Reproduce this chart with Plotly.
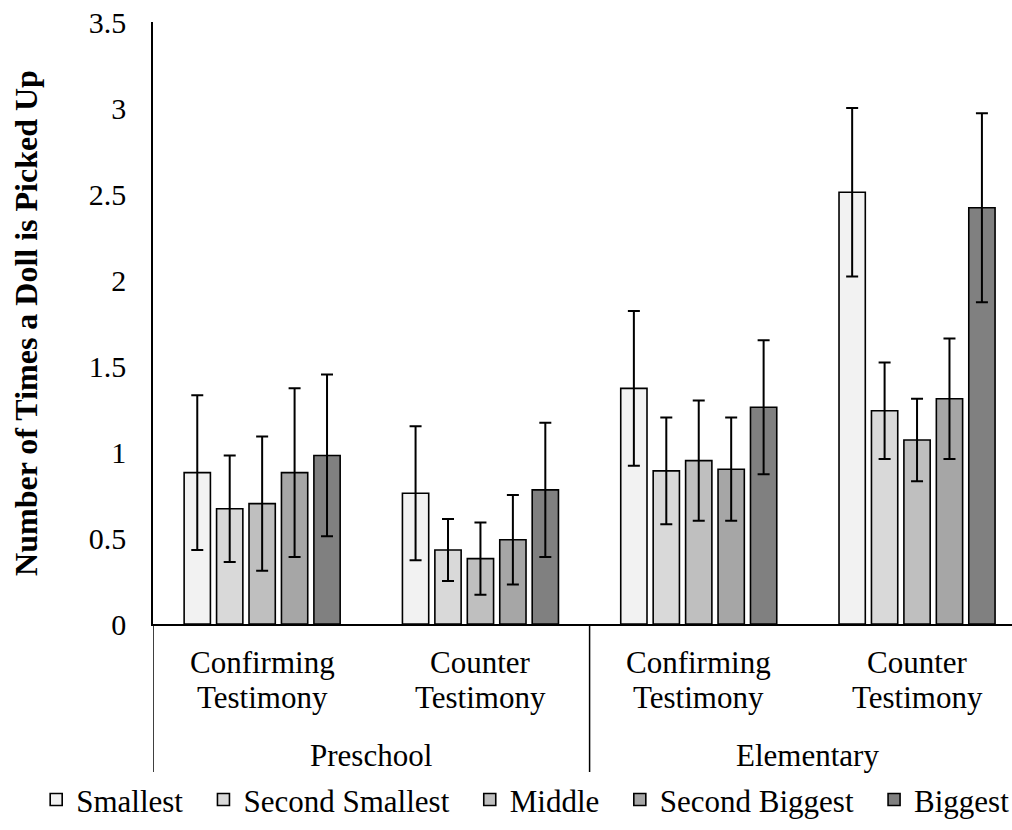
import plotly.graph_objects as go

# Doll-size series and their fills
sizes = ["Smallest", "Second Smallest", "Middle", "Second Biggest", "Biggest"]
fills = ["#f2f2f2", "#d9d9d9", "#bfbfbf", "#a6a6a6", "#808080"]

# Conditions (inner level, two text lines each) and age groups (outer level)
condition_line1 = ["Confirming", "Counter", "Confirming", "Counter"]
condition_line2 = ["Testimony", "Testimony", "Testimony", "Testimony"]
age_groups = ["Preschool", "Elementary"]

# Mean number of pick-ups per size, one value per condition
means = {
    "Smallest":        [0.88, 0.76, 1.37, 2.51],
    "Second Smallest": [0.67, 0.43, 0.89, 1.24],
    "Middle":          [0.70, 0.38, 0.95, 1.07],
    "Second Biggest":  [0.88, 0.49, 0.90, 1.31],
    "Biggest":         [0.98, 0.78, 1.26, 2.42],
}
# Error bar half-lengths
errors = {
    "Smallest":        [0.45, 0.39, 0.45, 0.49],
    "Second Smallest": [0.31, 0.18, 0.31, 0.28],
    "Middle":          [0.39, 0.21, 0.35, 0.24],
    "Second Biggest":  [0.49, 0.26, 0.30, 0.35],
    "Biggest":         [0.47, 0.39, 0.39, 0.55],
}
y_ticks = [0, 0.5, 1, 1.5, 2, 2.5, 3, 3.5]
y_tick_text = ["0", "0.5", "1", "1.5", "2", "2.5", "3", "3.5"]

FONT = "Liberation Serif, Times New Roman, serif"
positions = [i + 0.5 for i in range(len(condition_line1))]
# Non-breaking spaces widen the gap between legend entries
ENTRY_PAD = "\u00a0\u00a0"

fig = go.Figure()
for i, (name, color) in enumerate(zip(sizes, fills)):
    fig.add_trace(go.Bar(
        name=name + (ENTRY_PAD if i < len(sizes) - 1 else ""),
        x=positions,
        y=means[name],
        marker=dict(color=color, line=dict(color="black", width=1.6)),
        error_y=dict(type="data", array=errors[name], color="black",
                     thickness=2, width=6),
    ))

label_font = dict(family=FONT, size=31, color="black")
# Inner category labels, one annotation per text line
for pos, l1, l2 in zip(positions, condition_line1, condition_line2):
    fig.add_annotation(x=pos, y=0, xref="x", yref="paper", text=l1,
                       showarrow=False, yanchor="middle", yshift=-38,
                       font=label_font)
    fig.add_annotation(x=pos, y=0, xref="x", yref="paper", text=l2,
                       showarrow=False, yanchor="middle", yshift=-73,
                       font=label_font)
# Outer group labels
for g, label in enumerate(age_groups):
    fig.add_annotation(x=2 * g + 1, y=0, xref="x", yref="paper", text=label,
                       showarrow=False, yanchor="middle", yshift=-131,
                       font=label_font)
# Group divider lines below the axis
for xv in [0, 2]:
    fig.add_shape(type="line", xref="x", yref="paper", ysizemode="pixel",
                  yanchor=0, x0=xv, x1=xv, y0=0, y1=-148,
                  line=dict(color="black", width=1.5))

fig.update_layout(
    width=1012, height=830,
    margin=dict(l=153, r=0, t=22, b=206, autoexpand=False),
    paper_bgcolor="white", plot_bgcolor="white",
    barmode="group", bargap=0.257, bargroupgap=0.19,
    font=dict(family=FONT, color="black"),
    showlegend=True,
    legend=dict(orientation="h", x=-0.136, xanchor="left",
                y=-0.292, yanchor="middle",
                font=dict(family=FONT, size=31, color="black"),
                itemwidth=30, tracegroupgap=0),
    xaxis=dict(range=[0, 3.935], showticklabels=False, ticks="",
               showgrid=False, zeroline=False, showline=True,
               linecolor="black", linewidth=1.5),
    yaxis=dict(range=[0, 3.5], tickvals=y_ticks, ticktext=y_tick_text,
               tickfont=dict(family=FONT, size=30, color="black"),
               showgrid=False, zeroline=False, showline=True,
               linecolor="black", linewidth=1.5, ticks="", ticklabelstandoff=19,
               automargin=False,
               title=dict(text="<b>Number of Times a Doll is Picked Up</b>",
                          font=dict(family=FONT, size=32, color="black"),
                          standoff=42)),
)

fig.write_html("out.html")
